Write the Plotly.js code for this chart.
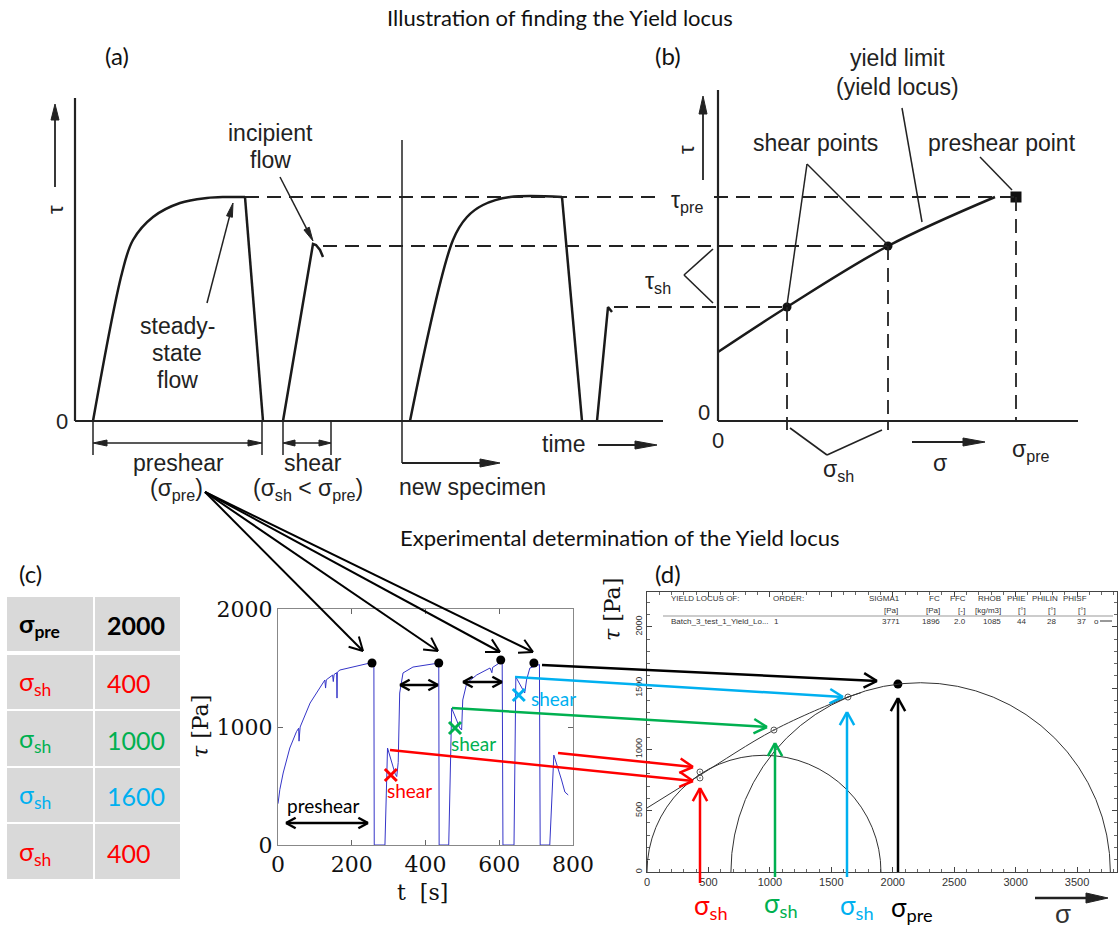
<!DOCTYPE html>
<html><head><meta charset="utf-8">
<script src="https://cdn.plot.ly/plotly-3.0.1.min.js"></script>
<style>html,body{margin:0;padding:0;background:#fff}</style>
</head><body><div id="chart" style="width:1119px;height:931px"></div>
<script>
const W=1119,H=931;

// ---------- Panel (a): schematic shear test, tau vs time (arbitrary units) ----------
const aPreshear1Time=[18,47,58,78,105,132,150,170];
const aPreshear1Tau=[0,148,181,204,218,223,224,224];
const aUnload1Time=[170,188];
const aUnload1Tau=[224,0];
const aShear1Time=[208,238,241,245,248];
const aShear1Tau=[0,177,176,171,164];
const aPreshear2Time=[335,378,392,408,435,487];
const aPreshear2Tau=[0,181,204,216,224,224];
const aUnload2Time=[487,507];
const aUnload2Tau=[224,0];
const aShear2Time=[522,533,537];
const aShear2Tau=[0,114,109];

// ---------- Panel (b): schematic yield locus (arbitrary units) ----------
const bLocusSigma=[0,69,170,277];
const bLocusTau=[69,114,175,224];
const bShearSigma=[69,170];
const bShearTau=[114,175];
const bPreSigma=[298];
const bPreTau=[224];

// ---------- Panel (c): measured shear stress vs time ----------
const cTime=[0,5,14,32,50,56,57,58,60,87,110,127,129,131,148,150,152,159,160,161,168,213,240,258,260,
 261,290,297,300,305,312,318,322,326,330,339,366,400,434,436,
 437,463,471,485,493,498,501,512,539,575,580,582,602,608,
 610,640,645,656,669,674,683,705,709,
 711,737,748,759,769,778,787];
const cTau=[350,470,610,822,960,990,880,995,1000,1203,1320,1398,1330,1400,1440,1385,1445,1460,1245,1465,1483,1517,1535,1545,1550,
 0,0,822,790,720,650,600,580,700,1288,1458,1508,1525,1542,1542,
 0,0,1160,1059,992,975,1229,1373,1441,1500,1460,1505,1551,1558,
 0,0,1424,1356,1288,1398,1500,1525,1530,
 0,0,762,661,551,449,424];
const cPeakTime=[255,436,604,694];
const cPeakTau=[1542,1542,1568,1542];
const cShearTime=[306,480,653];
const cShearTau=[593,992,1271];
const shearColors=['#ff0000','#00b050','#00b0f0'];

// ---------- Table (c) ----------
const sigmaPreLabel='σ<sub>pre</sub>';
const sigmaPre=2000;
const sigmaShearLabel='σ<sub>sh</sub>';
const sigmaShear=[400,1000,1600,400];
const sigmaShearColors=['#ff0000','#00b050','#00b0f0','#ff0000'];

// ---------- Panel (d): yield locus with Mohr circles ----------
const dLocusSigma=[0,431,1033,1635,1740];
const dLocusTau=[522,790,1158,1427,1462];
const dPointSigma=[431,431,1033,1635];
const dPointTau=[816,767,1158,1427];
const dPreSigma=[2042];
const dPreTau=[1533];
const mohrSigmaMin=[0,683];
const mohrSigmaMax=[1904,3771];
const dHeaderLabels=['SIGMA1','FC','FFC','RHOB','PHIE','PHILIN','PHISF'];
const dHeaderUnits=['[Pa]','[Pa]','[-]','[kg/m3]','[°]','[°]','[°]'];
const dHeaderValues=['3771','1896','2.0','1085','44','28','37'];

// ================= helpers =================
const px=x=>x/W, py=y=>1-y/H;
const shapes=[], annotations=[], data=[];
function seg(x0,y0,x1,y1,color,width,dash){
  shapes.push({type:'line',xref:'paper',yref:'paper',x0:px(x0),y0:py(y0),x1:px(x1),y1:py(y1),
    line:{color:color||'#222',width:width||2,dash:dash||'solid'}});
}
function rect(x0,y0,x1,y1,fill){
  shapes.push({type:'rect',xref:'paper',yref:'paper',x0:px(x0),y0:py(y0),x1:px(x1),y1:py(y1),
    fillcolor:fill,line:{width:0},layer:'below'});
}
function headOpen(x0,y0,x1,y1,color,width,len,ang){
  len=len||12; ang=ang||0.5;
  const a=Math.atan2(y1-y0,x1-x0);
  [1,-1].forEach(s=>{const b=a+Math.PI+s*ang; seg(x1,y1,x1+len*Math.cos(b),y1+len*Math.sin(b),color,width);});
}
function headFilled(x0,y0,x1,y1,color,len,half){
  len=len||14; half=half||4;
  const a=Math.atan2(y1-y0,x1-x0), c=Math.cos(a), s=Math.sin(a);
  const bx=x1-len*c, by=y1-len*s;
  const p1=[bx-half*s,by+half*c], p2=[bx+half*s,by-half*c];
  shapes.push({type:'path',xref:'paper',yref:'paper',
    path:`M${px(x1)},${py(y1)} L${px(p1[0])},${py(p1[1])} L${px(p2[0])},${py(p2[1])} Z`,
    fillcolor:color||'#222',line:{color:color||'#222',width:1}});
}
function arrowOpen(x0,y0,x1,y1,color,width,len){seg(x0,y0,x1,y1,color,width);headOpen(x0,y0,x1,y1,color,width,len);}
function dblOpen(x0,y0,x1,y1,color,width,len){seg(x0,y0,x1,y1,color,width);headOpen(x0,y0,x1,y1,color,width,len);headOpen(x1,y1,x0,y0,color,width,len);}
function arrowFilled(x0,y0,x1,y1,color,width,len,half){
  const a=Math.atan2(y1-y0,x1-x0);
  seg(x0,y0,x1-(len||14)*0.8*Math.cos(a),y1-(len||14)*0.8*Math.sin(a),color,width);
  headFilled(x0,y0,x1,y1,color,len,half);
}
function txt(x,y,t,size,color,family,extra){
  annotations.push(Object.assign({xref:'paper',yref:'paper',x:px(x),y:py(y),text:t,showarrow:false,
    xanchor:'center',yanchor:'middle',font:{size:size,color:color||'#222',family:family||'Liberation Sans, Arial, sans-serif'}},extra||{}));
}
const LATO='Lato, Carlito, sans-serif';
const SANS='Liberation Sans, Arial, sans-serif';
const SERIF='DejaVu Serif, serif';
const INK='#222';

// ================= traces =================
const sLine={color:'#1a1a1a',width:2.5};
function tr(x,y,xa,ya,line,shape){
  data.push({type:'scatter',mode:'lines',x:x,y:y,xaxis:xa,yaxis:ya,
    line:Object.assign({},line,{shape:shape||'linear'}),hoverinfo:'skip',showlegend:false});
}
tr(aPreshear1Time,aPreshear1Tau,'x','y',sLine,'spline');
tr(aUnload1Time,aUnload1Tau,'x','y',sLine);
tr(aShear1Time,aShear1Tau,'x','y',sLine);
tr(aPreshear2Time,aPreshear2Tau,'x','y',sLine,'spline');
tr(aUnload2Time,aUnload2Tau,'x','y',sLine);
tr(aShear2Time,aShear2Tau,'x','y',sLine);
tr(bLocusSigma,bLocusTau,'x2','y',sLine,'spline');
data.push({type:'scatter',mode:'markers',x:bShearSigma,y:bShearTau,xaxis:'x2',yaxis:'y',
  marker:{color:'#111',size:9},hoverinfo:'skip',showlegend:false});
data.push({type:'scatter',mode:'markers',x:bPreSigma,y:bPreTau,xaxis:'x2',yaxis:'y',
  marker:{color:'#111',size:11,symbol:'square'},hoverinfo:'skip',showlegend:false});

// panel c
data.push({type:'scatter',mode:'lines',x:cTime,y:cTau,xaxis:'x3',yaxis:'y3',
  line:{color:'#3535c8',width:1},hoverinfo:'skip',showlegend:false});
data.push({type:'scatter',mode:'markers',x:cPeakTime,y:cPeakTau,xaxis:'x3',yaxis:'y3',
  marker:{color:'#000',size:9},hoverinfo:'skip',showlegend:false});
cShearTime.forEach((t,i)=>{
  data.push({type:'scatter',mode:'markers',x:[t],y:[cShearTau[i]],xaxis:'x3',yaxis:'y3',
    marker:{symbol:'x-thin',size:12,color:shearColors[i],line:{color:shearColors[i],width:3}},hoverinfo:'skip',showlegend:false});
});

// table c (cells built from the arrays above)
const tblRows=[{label:'<b>'+sigmaPreLabel+'</b>',value:'<b>'+sigmaPre+'</b>',color:'#000'}]
  .concat(sigmaShear.map((v,i)=>({label:sigmaShearLabel,value:String(v),color:sigmaShearColors[i]})));
const rowTop=[597,655,711,768,824], rowBot=[651,709,766,822,879];
tblRows.forEach((r,i)=>{
  rect(7,rowTop[i],93,rowBot[i],'#d9d9d9');
  rect(95,rowTop[i],180,rowBot[i],'#d9d9d9');
  const yc=(rowTop[i]+rowBot[i])/2+1;
  txt(17,yc,r.label,25,r.color,LATO,{xanchor:'left'});
  txt(105,yc,r.value,25,r.color,LATO,{xanchor:'left'});
});

// panel d
data.push({type:'scatter',mode:'lines',x:dLocusSigma,y:dLocusTau,xaxis:'x4',yaxis:'y4',
  line:{color:'#333',width:1,shape:'spline'},hoverinfo:'skip',showlegend:false});
data.push({type:'scatter',mode:'markers',x:dPointSigma,y:dPointTau,xaxis:'x4',yaxis:'y4',
  marker:{symbol:'circle-open-dot',size:6,color:'#555',line:{width:1}},hoverinfo:'skip',showlegend:false});
data.push({type:'scatter',mode:'markers',x:dPreSigma,y:dPreTau,xaxis:'x4',yaxis:'y4',
  marker:{color:'#000',size:9},hoverinfo:'skip',showlegend:false});
mohrSigmaMin.forEach((s0,i)=>{
  const r=(mohrSigmaMax[i]-s0)/2;
  shapes.push({type:'circle',xref:'x4',yref:'y4',x0:s0,x1:mohrSigmaMax[i],y0:-r,y1:r,line:{color:'#333',width:1}});
});

// ================= panel (a)/(b) drawings =================
seg(75,98,75,421,INK,2.2); seg(75,421,663,421,INK,2.2);
arrowFilled(55,187,55,104,INK,1.8,16,4); txt(55,210,'τ',22,INK,SANS,{textangle:-90});
txt(62,421,'0',22,INK,SANS);
seg(402,140,402,463,INK,1.5); arrowFilled(402,463,500,463,INK,1.8,20,4);
txt(472,487,'new specimen',23,INK,SANS);
txt(563,444,'time',23,INK,SANS); arrowFilled(598,445,657,445,INK,1.8,22,4);
seg(245,197,656,197,INK,1.8,'14px,8px'); seg(714,197,1014,197,INK,1.8,'14px,8px');
seg(323,246,888,246,INK,1.8,'14px,8px');
seg(614,307,787,307,INK,1.8,'14px,8px');
txt(687,201,'τ<sub>pre</sub>',23,INK,SANS);
txt(658,282,'τ<sub>sh</sub>',23,INK,SANS);
seg(713,249,684,275,INK,1.6); seg(684,275,713,303,INK,1.6);
seg(93,421,93,455,INK,1.5); seg(262,421,262,455,INK,1.5); seg(331,421,331,455,INK,1.5);
seg(283,421,283,455,INK,1.5);
arrowFilled(178,443,93,443,INK,1.5,14,3); arrowFilled(178,443,262,443,INK,1.5,14,3);
arrowFilled(307,443,283,443,INK,1.5,12,3); arrowFilled(307,443,331,443,INK,1.5,12,3);
txt(179,463,'preshear',23,INK,SANS); txt(176,489,'(σ<sub>pre</sub>)',23,INK,SANS);
txt(313,463,'shear',23,INK,SANS); txt(308,489,'(σ<sub>sh</sub> &lt; σ<sub>pre</sub>)',23,INK,SANS);
txt(270,133,'incipient',23,INK,SANS); txt(270,160,'flow',23,INK,SANS);
arrowFilled(280,177,313,241,INK,1.5,14,3);
txt(177,326,'steady-',23,INK,SANS); txt(177,353,'state',23,INK,SANS); txt(177,380,'flow',23,INK,SANS);
arrowFilled(207,303,233,203,INK,1.5,14,3);
seg(718,90,718,421,INK,2.2); seg(718,421,1078,421,INK,2.2);
arrowFilled(703,180,703,96,INK,1.8,18,4); txt(686,150,'τ',22,INK,SANS,{textangle:-90});
txt(704,413,'0',22,INK,SANS); txt(718,440,'0',22,INK,SANS);
seg(787,307,787,430,INK,1.8,'14px,8px'); seg(888,246,888,430,INK,1.8,'14px,8px'); seg(1016,197,1016,421,INK,1.8,'14px,8px');
seg(790,428,827,455,INK,1.6); seg(827,455,882,430,INK,1.6);
txt(838,471,'σ<sub>sh</sub>',23,INK,SANS);
arrowFilled(912,442,985,442,INK,1.8,22,4); txt(940,463,'σ',23,INK,SANS);
txt(1031,451,'σ<sub>pre</sub>',23,INK,SANS);
txt(897,58,'yield limit',23,INK,SANS); txt(897,87,'(yield locus)',23,INK,SANS);
seg(902,108,922,222,INK,1.5);
txt(815,143,'shear points',23,INK,SANS);
seg(807,164,787,305,INK,1.5); seg(807,164,887,244,INK,1.5);
txt(1002,143,'preshear point',23,INK,SANS);
seg(980,157,1012,190,INK,1.5);

// titles / panel labels
txt(560,18,'Illustration of finding the Yield locus',22,'#111',LATO);
txt(620,537,'Experimental determination of the Yield locus',22,'#111',LATO);
txt(117,55,'(a)',24,'#111',LATO); txt(668,55,'(b)',24,'#111',LATO);
txt(30,573,'(c)',24,'#111',LATO); txt(668,573,'(d)',24,'#111',LATO);

// fan arrows from preshear
[[363,651],[438,651],[500,652],[533,652]].forEach(p=>arrowOpen(205,492,p[0],p[1],'#000',2,15));

// panel c annotations
dblOpen(286,823,368,823,'#000',2.5,11);
dblOpen(400,685,438,685,'#000',2.5,11);
dblOpen(463,682,502,682,'#000',2.5,11);
txt(323,805,'preshear',19,'#000',LATO);
txt(409,790,'shear',19,'#ff0000',LATO);
txt(473,743,'shear',19,'#00b050',LATO);
txt(553,698,'shear',19,'#00b0f0',LATO);
txt(200,727,'<i>τ</i> [Pa]',22,'#111',SERIF,{textangle:-90});
txt(423,892,'t  [s]',22,'#111',SERIF);

// connectors c -> d
arrowOpen(542,665,877,681,'#000',2.5,15);
arrowOpen(515,677,843,697,'#00b0f0',2.5,15);
arrowOpen(452,708,767,727,'#00b050',2.5,15);
arrowOpen(390,750,693,781,'#ff0000',2.5,15);
arrowOpen(558,753,693,767,'#ff0000',2.5,15);
// up arrows in d
arrowOpen(700,883,700,788,'#ff0000',2.5,15);
arrowOpen(775,877,775,743,'#00b050',2.5,15);
arrowOpen(847,877,847,712,'#00b0f0',2.5,15);
arrowOpen(898,872,898,698,'#000',2.5,15);
txt(711,906,'σ<sub>sh</sub>',26,'#ff0000',LATO);
txt(781,904,'σ<sub>sh</sub>',26,'#00b050',LATO);
txt(857,906,'σ<sub>sh</sub>',26,'#00b0f0',LATO);
txt(912,908,'σ<sub>pre</sub>',26,'#000',LATO);
arrowFilled(1035,898,1108,898,'#222',2.5,22,5);
txt(1063,914,'σ',26,'#333',SANS);
txt(612,610,'<i>τ</i> [Pa]',22,'#111',SERIF,{textangle:-90});

// header of d
const HF=8, HC='#333';
txt(669,598,'YIELD LOCUS OF:',HF,HC,SANS,{xanchor:'left'});
txt(771,598,'ORDER:',HF,HC,SANS,{xanchor:'left'});
const hdrRight=[902,942,968,1003,1028,1060,1089];
const unitRight=[900,942,967,1003,1028,1058,1088];
const valRight=[902,942,968,1003,1028,1058,1088];
dHeaderLabels.forEach((l,i)=>txt(hdrRight[i],598,l,HF,HC,SANS,{xanchor:'right'}));
dHeaderUnits.forEach((l,i)=>txt(unitRight[i],610,l,HF,HC,SANS,{xanchor:'right'}));
dHeaderValues.forEach((l,i)=>txt(valRight[i],621,l,HF,HC,SANS,{xanchor:'right'}));
txt(669,621,'Batch_3_test_1_Yield_Lo...',HF,HC,SANS,{xanchor:'left'});
txt(772,621,'1',HF,HC,SANS,{xanchor:'left'});
seg(663,616,1113,616,'#999',1);
txt(1096,621,'o',HF,HC,SANS); seg(1100,621,1112,621,'#333',1);

const layout={
  width:W,height:H,margin:{l:0,r:0,t:0,b:0},paper_bgcolor:'#fff',plot_bgcolor:'rgba(0,0,0,0)',showlegend:false,
  xaxis:{domain:[70/W,670/W],range:[-5,595],anchor:'y',visible:false},
  xaxis2:{domain:[713/W,1083/W],range:[-5,365],anchor:'y',visible:false},
  yaxis:{domain:[1-430/H,1-90/H],range:[-9,331],anchor:'x',visible:false},
  xaxis3:{domain:[278/W,573/W],range:[0,800],anchor:'y3',tickvals:[0,200,400,600,800],ticks:'inside',ticklen:5,
    tickcolor:'#666',showline:true,mirror:'ticks',linecolor:'#888',linewidth:1,showgrid:false,zeroline:false,
    tickfont:{family:SERIF,size:22,color:'#111'}},
  yaxis3:{domain:[1-845/H,1-609/H],range:[0,2000],anchor:'x3',tickvals:[0,1000,2000],ticks:'inside',ticklen:5,
    tickcolor:'#666',showline:true,mirror:'ticks',linecolor:'#888',linewidth:1,showgrid:false,zeroline:false,
    tickfont:{family:SERIF,size:22,color:'#111'}},
  xaxis4:{domain:[647/W,1117/W],range:[0,3825],anchor:'y4',tickvals:[0,500,1000,1500,2000,2500,3000,3500],
    ticks:'inside',ticklen:5,tickcolor:'#444',showline:true,mirror:'allticks',linecolor:'#444',linewidth:1,
    minor:{dtick:100,ticks:'inside',ticklen:3,tickcolor:'#666'},showgrid:false,zeroline:false,
    tickfont:{family:SANS,size:11,color:'#333'}},
  yaxis4:{domain:[1-872/H,1-592/H],range:[0,2284],anchor:'x4',tickvals:[0,500,1000,1500,2000],tickangle:-90,
    ticks:'inside',ticklen:5,tickcolor:'#444',showline:true,mirror:'allticks',linecolor:'#444',linewidth:1,
    minor:{dtick:100,ticks:'inside',ticklen:3,tickcolor:'#666'},showgrid:false,zeroline:false,
    tickfont:{family:SANS,size:9,color:'#333'}},
  shapes:shapes,annotations:annotations
};
Plotly.newPlot('chart',data,layout,{displayModeBar:false,responsive:false});
</script></body></html>
